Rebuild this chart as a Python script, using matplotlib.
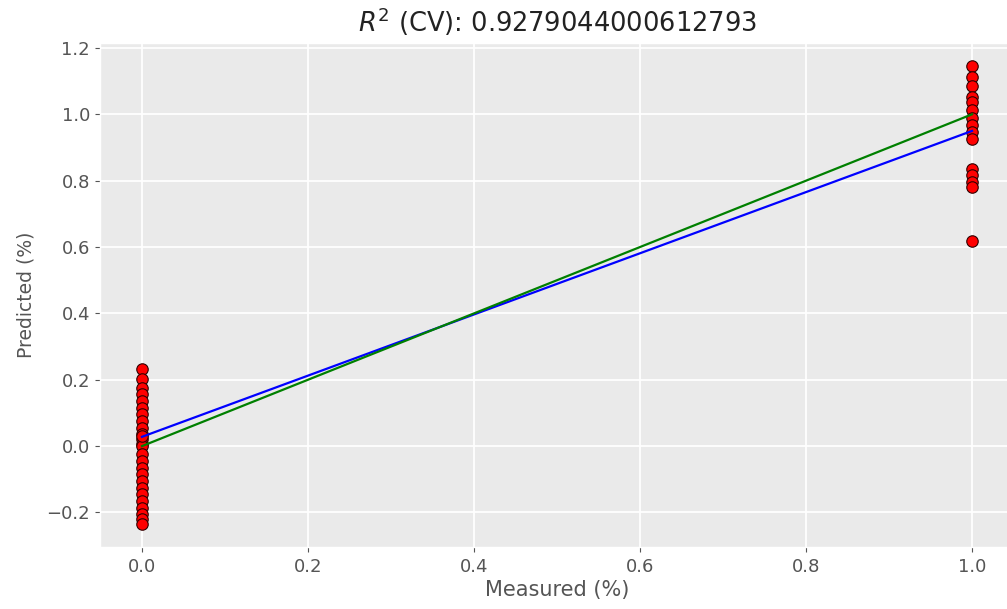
import numpy as np
import matplotlib
matplotlib.use("Agg")
import matplotlib.pyplot as plt

# Measured classes and cross-validated predictions
measured_zero = [0.0] * 26
predicted_zero = [0.232, 0.201, 0.176, 0.157, 0.136, 0.116, 0.097, 0.076,
                  0.055, 0.036, 0.021, 0.006, 0.000, -0.024, -0.045, -0.066,
                  -0.085, -0.106, -0.126, -0.145, -0.166, -0.186, -0.205,
                  -0.220, -0.236, 0.030]
measured_one = [1.0] * 15
predicted_one = [1.145, 1.113, 1.085, 1.052, 1.037, 1.012, 0.988, 0.967,
                 0.946, 0.927, 0.836, 0.816, 0.795, 0.780, 0.617]

# Calibration fit (slope, intercept) and the R^2 of the cross-validation
fit_slope = 0.922
fit_intercept = 0.028
score_cv = 0.9279044000612793

y = np.array(measured_zero + measured_one)
y_cv = np.array(predicted_zero + predicted_one)

plt.style.use("ggplot")
fig = plt.figure(figsize=(10.07, 6.09), dpi=100)
ax = fig.add_axes([0.0998, 0.1013, 0.9067, 0.8276])
ax.set_facecolor("#EAEAEA")

ax.scatter(y, y_cv, c="red", edgecolors="#300000", s=68, linewidths=0.8)
ax.plot(y, fit_intercept + fit_slope * y, c="blue", linewidth=1.6)
ax.plot(y, y, color="green", linewidth=1.6)

ax.set_title("$R^{2}$ (CV): " + str(score_cv), fontsize=18.5, color="#222222", pad=8)
ax.set_xlabel("Measured (%)", fontsize=15, labelpad=3)
ax.set_ylabel("Predicted (%)", fontsize=13.5, labelpad=8)
ax.tick_params(labelsize=13, pad=4)
ax.set_xticks([0.0, 0.2, 0.4, 0.6, 0.8, 1.0])
ax.set_yticks([-0.2, 0.0, 0.2, 0.4, 0.6, 0.8, 1.0, 1.2])
ax.grid(True, color="white", linewidth=1.3)

fig.savefig("out.png", dpi=100)
